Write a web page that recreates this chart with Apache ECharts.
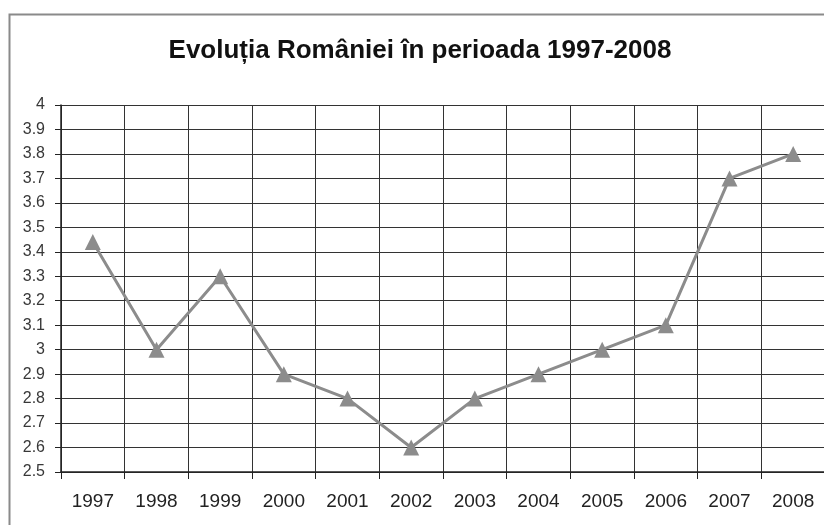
<!DOCTYPE html>
<html>
<head>
<meta charset="utf-8">
<script src="https://cdn.jsdelivr.net/npm/echarts@6/dist/echarts.min.js"></script>
<style>
  html, body { margin: 0; padding: 0; background: #ffffff; }
  #chart { width: 824px; height: 525px; }
</style>
</head>
<body>
<div id="chart"></div>
<script>
// Years on the horizontal axis
const years = ['1997', '1998', '1999', '2000', '2001', '2002', '2003', '2004', '2005', '2006', '2007', '2008'];
// Yearly values
const values = [3.44, 3.0, 3.3, 2.9, 2.8, 2.6, 2.8, 2.9, 3.0, 3.1, 3.7, 3.8];
const titleText = 'Evoluția României în perioada 1997-2008';

const chart = echarts.init(document.getElementById('chart'), null, { renderer: 'canvas' });
const font = '"Liberation Sans", Arial, sans-serif';

chart.setOption({
  backgroundColor: '#ffffff',
  animation: false,
  graphic: [{
    type: 'rect',
    left: 7, top: 12,
    shape: { width: 900, height: 600 },
    style: { fill: 'none', stroke: '#8a8a8a', lineWidth: 2 },
    z: -1
  }],
  title: {
    text: titleText,
    left: 415, textAlign: 'center',
    top: 33,
    textStyle: { fontFamily: font, fontSize: 26, fontWeight: 'bold', color: '#111' }
  },
  // plot area ends just past the right edge of the canvas
  grid: { left: 61, top: 105, width: 764, height: 367, outerBoundsMode: 'none', containLabel: false },
  xAxis: {
    type: 'category',
    data: years,
    boundaryGap: true,
    axisLine: { lineStyle: { color: '#222', width: 1.5 } },
    axisTick: { show: true, length: 7, lineStyle: { color: '#222' } },
    axisLabel: { fontFamily: font, fontSize: 19, color: '#222', margin: 20 },
    splitLine: { show: true, lineStyle: { color: '#333', width: 1 } }
  },
  yAxis: {
    type: 'value',
    min: 2.5, max: 4, interval: 0.1,
    axisLine: { show: true, lineStyle: { color: '#222', width: 1.5 } },
    axisTick: { show: true, length: 6, lineStyle: { color: '#222' } },
    axisLabel: {
      fontFamily: font, fontSize: 16, color: '#383838', margin: 16,
      formatter: v => String(Math.round(v * 10) / 10)
    },
    splitLine: { show: true, lineStyle: { color: '#333', width: 1 } }
  },
  series: [{
    type: 'line',
    data: values,
    symbol: 'triangle',
    symbolSize: 16,
    lineStyle: { color: '#8c8c8c', width: 3 },
    itemStyle: { color: '#8c8c8c' }
  }]
});
</script>
</body>
</html>
